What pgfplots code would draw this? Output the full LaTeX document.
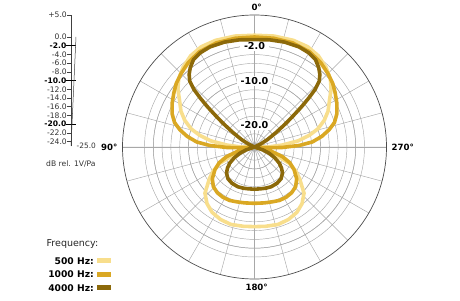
\documentclass[border=0pt]{standalone}
\usepackage{pgfplots}
\pgfplotsset{compat=1.18}
\usepgfplotslibrary{polar}
\usepackage{pgfplotstable}
\usepackage{fontspec}
\setmainfont{DejaVu Sans}
\definecolor{cA}{HTML}{F8DE8C}
\definecolor{cB}{HTML}{DAA823}
\definecolor{cC}{HTML}{8C690A}
\definecolor{gridc}{HTML}{A8A8A8}

% 500 Hz (angle in degrees, dB rel. 1V/Pa)
\pgfplotstableread{
deg db
0 0.4
10 0.6
20 0.8
28 0.8
35 0.3
42 -0.7
48 -1.8
53 -3.2
58 -4.9
64 -6.4
69 -8.0
74 -10.0
78 -12.3
82 -15.0
86 -18.7
90 -22.0
94 -25.0
98 -25.0
102 -23.3
106 -21.8
110 -20.3
115 -16.3
120 -14.2
125 -12.5
133 -9.6
140 -8.2
147 -7.3
155 -6.8
163 -6.6
172 -6.8
180 -6.9
188 -6.8
197 -6.6
205 -6.8
213 -7.3
220 -8.2
227 -9.6
235 -12.5
240 -14.2
245 -16.3
250 -20.3
254 -21.8
258 -23.3
262 -25.0
266 -25.0
270 -22.0
274 -18.7
278 -15.0
282 -12.3
286 -10.0
291 -8.0
296 -6.4
302 -4.9
307 -3.2
312 -1.8
318 -0.7
325 0.3
332 0.8
340 0.8
350 0.6
360 0.4
}\tblA

% 1000 Hz
\pgfplotstableread{
deg db
0 0.0
10 0.1
20 0.2
30 0.0
38 -0.6
45 -1.4
51 -2.1
56 -2.9
62 -3.8
68 -4.8
73 -6.0
77 -7.6
81 -9.5
85 -11.8
88 -14.8
91 -18.7
94 -22.5
97 -25.0
101 -23.5
105 -20.8
109 -18.3
114 -16.2
120 -14.6
127 -13.0
134 -12.0
141 -11.6
148 -11.5
155 -11.6
162 -11.9
170 -12.1
180 -12.2
190 -12.1
198 -11.9
205 -11.6
212 -11.5
219 -11.6
226 -12.0
233 -13.0
240 -14.6
246 -16.2
251 -18.3
255 -20.8
259 -23.5
263 -25.0
266 -22.5
269 -18.7
272 -14.8
275 -11.8
279 -9.5
283 -7.6
287 -6.0
292 -4.8
298 -3.8
304 -2.9
309 -2.1
315 -1.4
322 -0.6
330 0.0
340 0.2
350 0.1
360 0.0
}\tblB

% 4000 Hz
\pgfplotstableread{
deg db
0 -0.6
8 -0.4
16 -0.2
24 -0.1
30 -0.3
35 -0.8
39 -1.8
42 -2.8
44.5 -4.0
46.5 -6.0
48 -8.5
49.5 -11.0
51 -13.5
53 -16.0
56 -19.0
60 -21.5
64 -23.5
68 -25.0
105 -25.0
109 -23.0
113 -21.4
118 -19.8
123 -18.3
128 -17.2
133 -16.3
140 -15.6
148 -15.3
157 -15.2
165 -15.3
172 -15.4
180 -15.4
188 -15.4
195 -15.3
203 -15.2
212 -15.3
220 -15.6
227 -16.3
232 -17.2
237 -18.3
242 -19.8
247 -21.4
251 -23.0
255 -25.0
292 -25.0
296 -23.5
300 -21.5
304 -19.0
307 -16.0
309 -13.5
310.5 -11.0
312 -8.5
313.5 -6.0
315.5 -4.0
318 -2.8
321 -1.8
325 -0.8
330 -0.3
336 -0.1
344 -0.2
352 -0.4
360 -0.6
}\tblC

\begin{document}
\begin{tikzpicture}
\path[use as bounding box] (0,0) rectangle (460bp,301bp);

% ---- dB scale on the left ----
\begin{axis}[
  at={(71bp,155bp)}, anchor=south west,
  scale only axis, width=10bp, height=131bp,
  xmin=0, xmax=1, ymin=-25, ymax=5,
  clip=false,
  axis x line=none, axis y line*=left,
  axis line style={black!75, line width=0.5bp},
  ytick={5,0,-4,-6,-8,-12,-14,-16,-18,-22,-24},
  yticklabels={+5.0,0.0,-4.0,-6.0,-8.0,-12.0,-14.0,-16.0,-18.0,-22.0,-24.0},
  tick align=outside, major tick length=4bp,
  tick style={black!75, line width=0.5bp},
  yticklabel style={font=\fontsize{7.6bp}{8bp}\selectfont, text=black!80, inner sep=0pt},
  extra y ticks={-2,-10,-20},
  extra y tick labels={-2.0,-10.0,-20.0},
  extra y tick style={tick align=center, major tick length=9bp,
     tick style={black, line width=0.8bp},
     yticklabel style={font=\bfseries\fontsize{7.6bp}{8bp}\selectfont, text=black}},
]
\draw[black!75, line width=0.5bp] (axis cs:0,-25) -- ++(5bp,0);
\node[anchor=west, inner sep=0pt, font=\fontsize{7.4bp}{8bp}\selectfont, text=black!80] at ([xshift=5.5bp]axis cs:0,-25) {-25.0};
\end{axis}

% ---- polar diagram ----
\begin{polaraxis}[
  at={(254.5bp,154bp)}, anchor=center,
  scale only axis, width=264bp, height=264bp,
  xmin=0, xmax=360, ymin=0, ymax=30,
  xtick={0,15,...,345}, ytick={1,3,...,25},
  xticklabel={\relax}, yticklabel={\relax},
  major tick length=0pt,
  grid=major,
  major grid style={gridc, line width=0.45bp},
  extra x ticks={0,90,180,270},
  extra x tick labels={\relax,\relax,\relax,\relax},
  extra x tick style={grid style={black!85, line width=0.5bp}},
  extra y ticks={5,15,23},
  extra y tick labels={\relax,\relax,\relax},
  extra y tick style={grid style={black, line width=1.3bp}},
  axis line style={black!70, line width=0.7bp},
  clip=false,
]
\node[fill=white, inner xsep=4bp, inner ysep=1.2bp, font=\bfseries\fontsize{9.6bp}{10bp}\selectfont] at (axis cs:90,23) {-2.0};
\node[fill=white, inner xsep=4bp, inner ysep=1.2bp, font=\bfseries\fontsize{9.6bp}{10bp}\selectfont] at (axis cs:90,15) {-10.0};
\node[fill=white, inner xsep=2bp, inner ysep=1.2bp, font=\bfseries\fontsize{9.6bp}{10bp}\selectfont] at (axis cs:90,5) {-20.0};
\addplot[cA, line width=3.6bp, line join=round] table[x expr={mod(\thisrow{deg}+90,360)}, y expr={\thisrow{db}+25}] {\tblA};
\addplot[cB, line width=3.6bp, line join=round] table[x expr={mod(\thisrow{deg}+90,360)}, y expr={\thisrow{db}+25}] {\tblB};
\addplot[cC, line width=3.6bp, line join=round] table[x expr={mod(\thisrow{deg}+90,360)}, y expr={\thisrow{db}+25}] {\tblC};
\end{polaraxis}

% ---- angle labels ----
\node[font=\bfseries\fontsize{8.6bp}{9bp}\selectfont] at (254.5bp,294bp) {0\rlap{°}};
\node[font=\bfseries\fontsize{8.6bp}{9bp}\selectfont] at (254.5bp,14bp) {180\rlap{°}};
\node[anchor=east, inner sep=0pt, font=\bfseries\fontsize{8.6bp}{9bp}\selectfont] at (117.5bp,154bp) {90°};
\node[anchor=west, inner sep=0pt, font=\bfseries\fontsize{8.6bp}{9bp}\selectfont] at (391.5bp,154bp) {270°};

% ---- unit ----
\node[anchor=west, inner sep=0pt, font=\fontsize{7.6bp}{8bp}\selectfont, text=black!80] at (46bp,137.5bp) {dB rel. 1V/Pa};

% ---- legend ----
\node[anchor=base west, inner sep=0pt, font=\fontsize{9.5bp}{10bp}\selectfont, text=black!85] at (46.5bp,54.3bp) {Frequency:};
\node[anchor=base east, inner sep=0pt, font=\bfseries\fontsize{9.2bp}{10bp}\selectfont] at (94bp,36.7bp) {500 Hz:};
\node[anchor=base east, inner sep=0pt, font=\bfseries\fontsize{9.2bp}{10bp}\selectfont] at (94bp,23.3bp) {1000 Hz:};
\node[anchor=base east, inner sep=0pt, font=\bfseries\fontsize{9.2bp}{10bp}\selectfont] at (94bp,10bp) {4000 Hz:};
\fill[cA] (96.7bp,38.2bp) rectangle (111bp,42.7bp);
\fill[cB] (96.7bp,24.3bp) rectangle (111bp,28.8bp);
\fill[cC] (96.7bp,11.1bp) rectangle (111bp,15.6bp);
\end{tikzpicture}
\end{document}
